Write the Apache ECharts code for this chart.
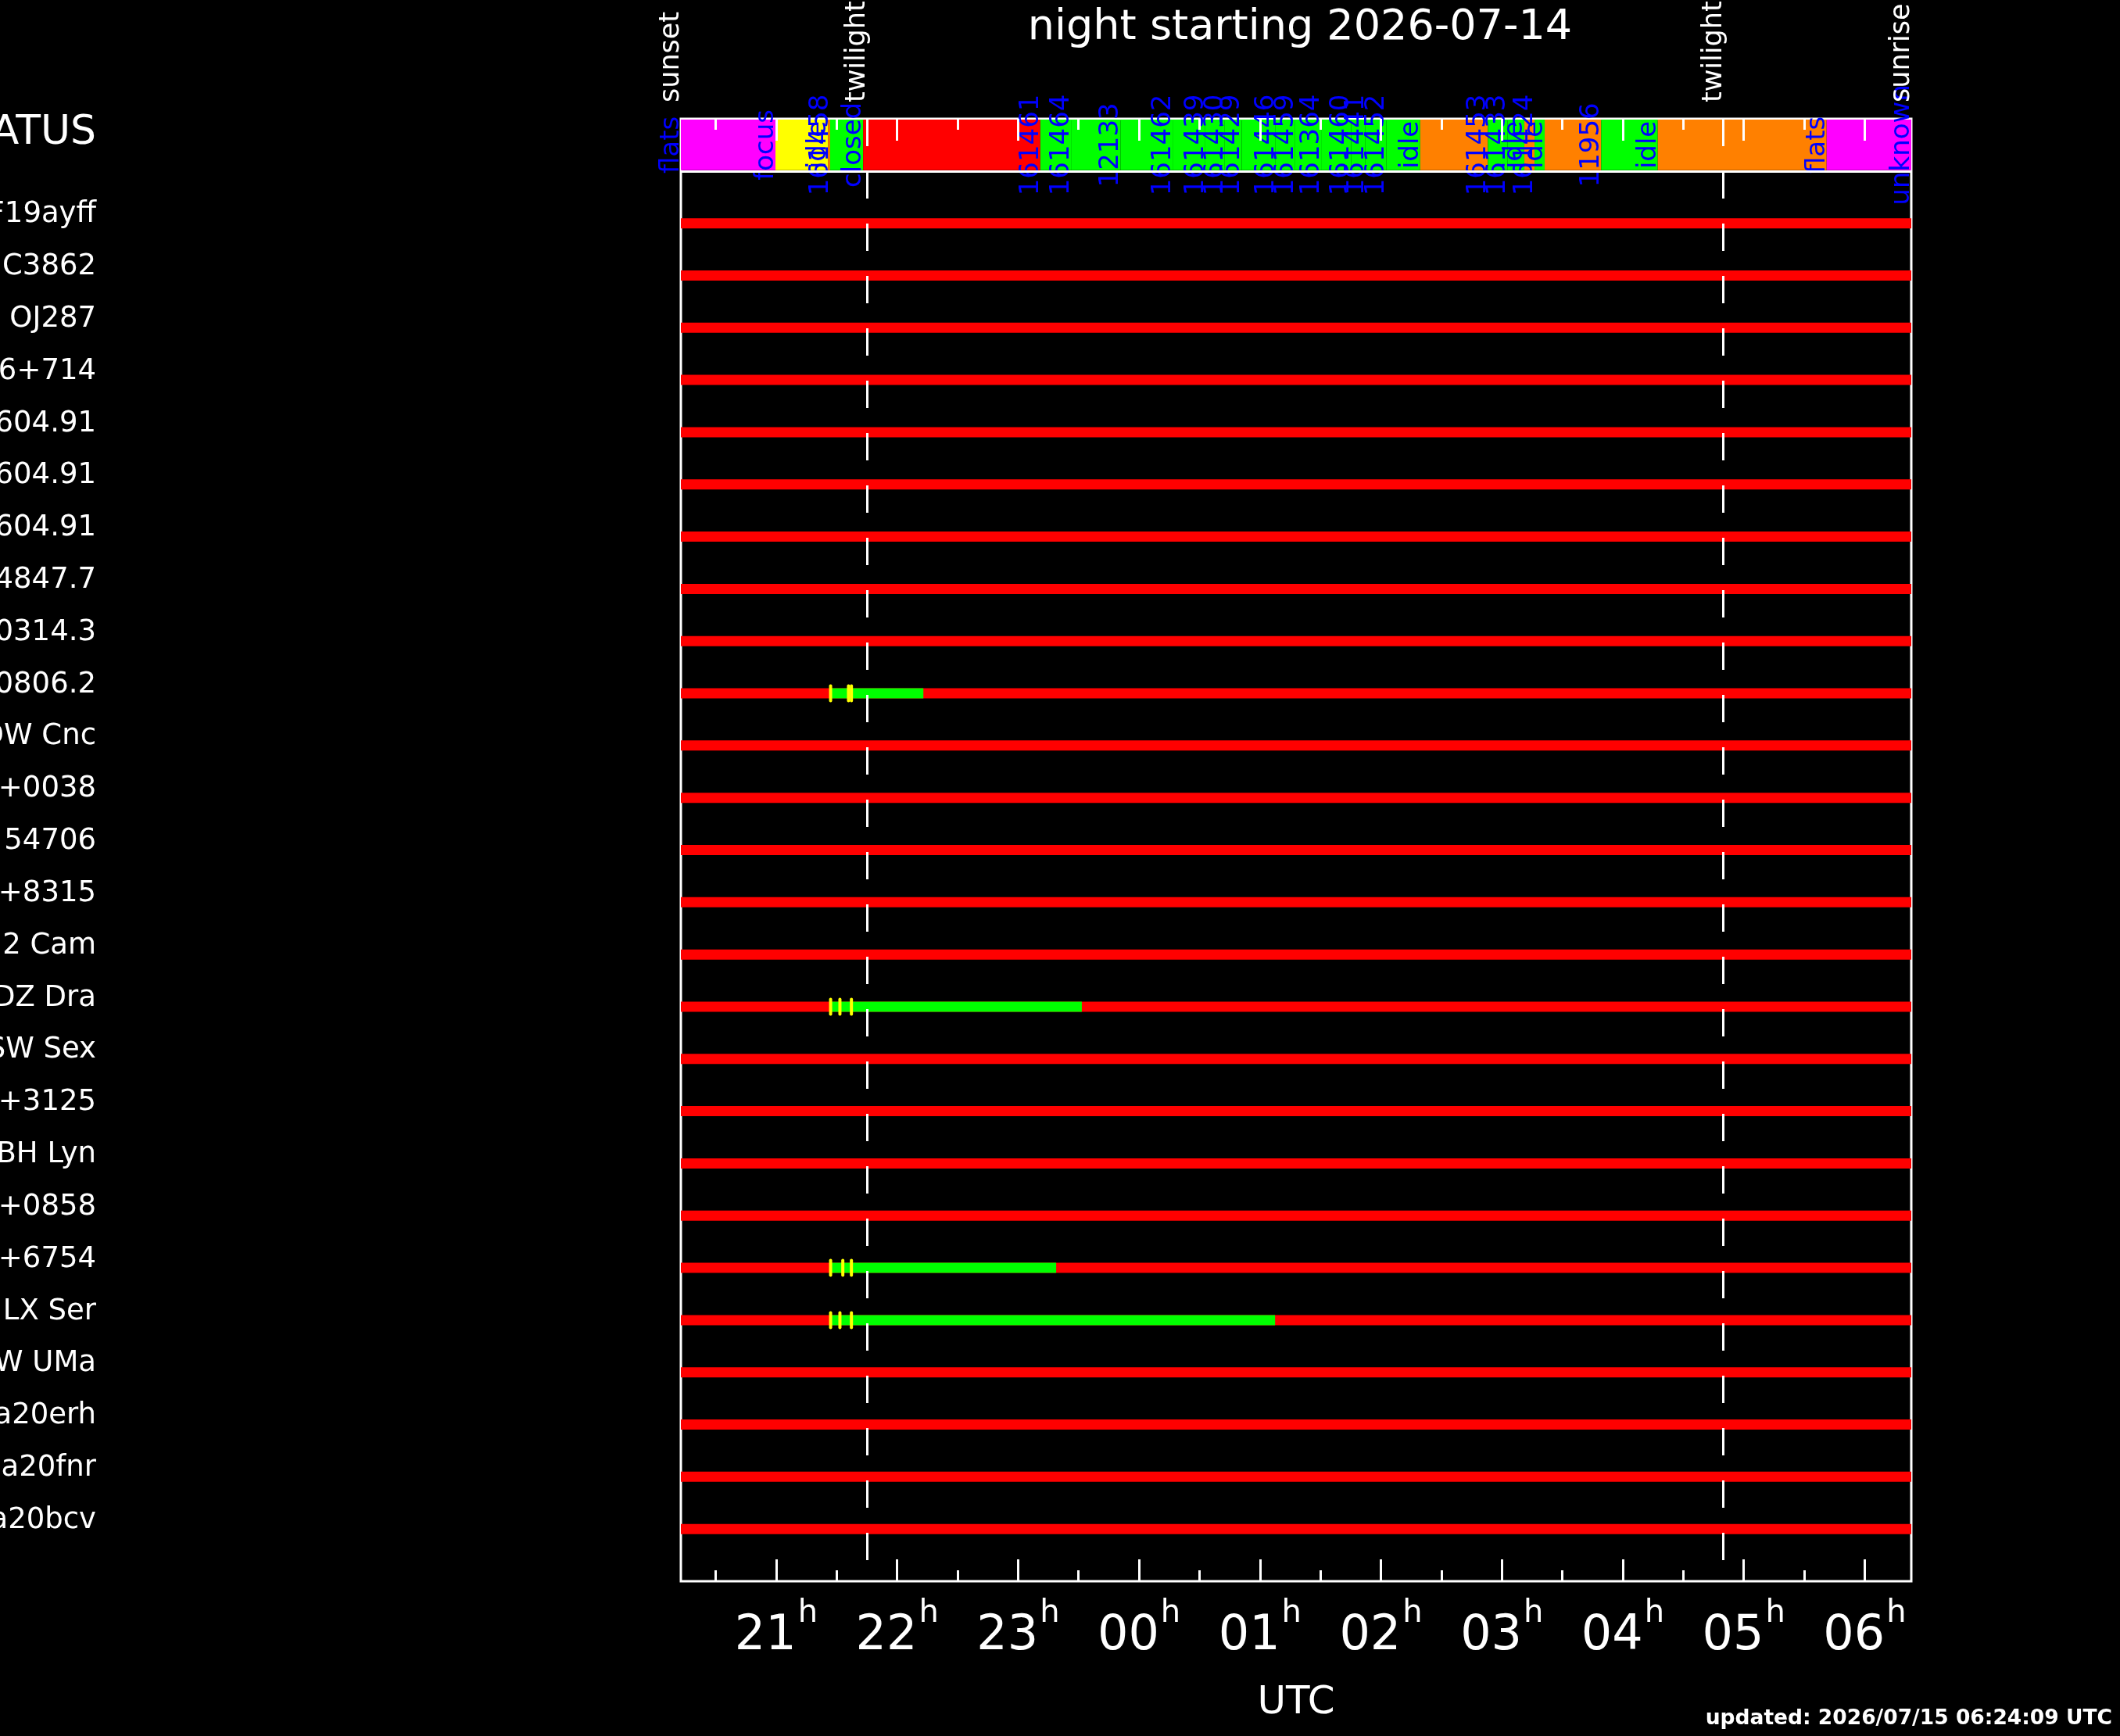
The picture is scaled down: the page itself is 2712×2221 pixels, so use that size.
<!DOCTYPE html>
<html>
<head>
<meta charset="utf-8">
<script src="https://cdn.jsdelivr.net/npm/echarts@6/dist/echarts.min.js"></script>
<style>
html,body{margin:0;padding:0;background:#000;}
#main{width:2712px;height:2221px;}
</style>
</head>
<body>
<div id="main"></div>
<script>
// targets, top to bottom
var rowNames = ['ZTF19ayff','NGC3862','OJ287','S5 0716+714','J1604.91','J1604.91','J1604.91',
	'J1234847.7','J100314.3','J100806.2','DW Cnc','J0808+0038','HIP 54706','J0644+8315',
	'2 Cam','DZ Dra','SW Sex','J0812+3125','BH Lyn','J1551+0858','J1736+6754','LX Ser',
	'W UMa','Gaia20erh','Gaia20fnr','Gaia20bcv'];

// night limits, hours after previous midnight (UTC)
var xMin = 20.212, xMax = 30.385;
var hourTicks = [21,22,23,24,25,26,27,28,29,30];
var halfTicks = [20.5,21.5,22.5,23.5,24.5,25.5,26.5,27.5,28.5,29.5];

// telescope status strip
var statusStart = [20.212,20.994,21.428,21.446,21.719,23.184,23.438,23.847,24.278,24.548,24.709,
	24.849,25.129,25.291,25.506,25.753,25.872,26.044,26.325,26.884,27.046,27.186,27.270,27.354,
	27.821,28.289,29.685,30.385];
var statusLabel = ['flats','focus','idle','161458','closed','161461','161464','12133','161462',
	'161439','161430','161429','161446','161459','161364','161460','161441','161452','idle',
	'161453','161433','idle','161424','idle','11956','idle','flats','unknown'];
var statusKind = ['flats','focus','idle','obs','closed','obs','obs','obs','obs','obs','obs',
	'obs','obs','obs','obs','obs','obs','obs','idle','obs','obs','idle','obs','idle','obs',
	'idle','flats','unknown'];
var kindColor = {flats:'#ff00ff',focus:'#ffff00',idle:'#ff8000',obs:'#00ff00',closed:'#ff0000',unknown:'#ff00ff'};

// sun events
var eventName = ['sunset','twilight','twilight','sunrise'];
var eventHour = [20.212,21.750,28.834,30.385];

// observed stretches per target
var obsRow = [9,15,20,21];
var obsStart = [21.450,21.450,21.450,21.450];
var obsEnd = [22.217,23.527,23.315,25.125];

// yellow exposure markers
var markRow = [9,9,9,15,15,15,20,20,20,21,21,21];
var markHour = [21.450,21.598,21.622,21.450,21.527,21.622,21.450,21.551,21.622,21.450,21.527,21.622];

var FONT = 'DejaVu Sans';

var segData = [];
for (var i = 0; i < rowNames.length; i++) {
	segData.push({value:[i, xMin, xMax], itemStyle:{color:'#ff0000'}});
}
for (var j = 0; j < obsRow.length; j++) {
	segData.push({value:[obsRow[j], obsStart[j], obsEnd[j]], itemStyle:{color:'#00ff00'}});
}
var markData = [];
for (var k = 0; k < markRow.length; k++) markData.push([markRow[k], markHour[k]]);

var statusData = [];
for (var s = 0; s < statusStart.length; s++) {
	var end = s + 1 < statusStart.length ? statusStart[s+1] : xMax;
	statusData.push({value:[statusStart[s], end], itemStyle:{color:kindColor[statusKind[s]]}});
}
var statusLabelData = statusStart.map(function(v){ return [v, -1.5]; });
var eventData = eventHour.map(function(v){ return [v, -2]; });

var twiLines = [];
eventName.forEach(function(n, i){
	if (n == 'twilight') twiLines.push({xAxis:eventHour[i], lineStyle:{color:'#fff', width:3, type:[35,32]}});
});
twiLines.push({yAxis:-1, lineStyle:{color:'#fff', width:3, type:'solid'}});

function pad(h){ h = Math.round(h) % 24; return (h < 10 ? '0' : '') + h; }

function tickAxis(pos, vals, len, withLabel) {
	return {
		type:'value', min:xMin, max:xMax, position:pos, z:6,
		axisLine:{show:false, onZero:false}, splitLine:{show:false},
		axisTick:{show:true, inside:true, length:len, customValues:vals, lineStyle:{color:'#fff', width:3}},
		axisLabel: withLabel ? {
			show:true, customValues:hourTicks, margin:22, color:'#fff',
			formatter:function(v){ return '{n|' + pad(v) + '}{h|h}'; },
			rich:{
				n:{fontSize:62, fontFamily:FONT, color:'#fff', verticalAlign:'bottom'},
				h:{fontSize:40, fontFamily:FONT, color:'#fff', verticalAlign:'bottom', padding:[0,0,40,2]}
			}
		} : {show:false},
		name: withLabel ? 'UTC' : '',
		nameLocation:'middle', nameGap:131,
		nameTextStyle:{color:'#fff', fontSize:50, fontFamily:FONT}
	};
}

var myChart = echarts.init(document.getElementById('main'));
var option = {
	backgroundColor:'#000',
	animation:false,
	textStyle:{fontFamily:FONT},
	title:[{
		text:'night starting 2026-07-14',
		left:1658, top:4, textAlign:'center',
		textStyle:{color:'#fff', fontSize:54, fontWeight:'normal', fontFamily:FONT}
	},{
		text:'updated: 2026/07/15 06:24:09 UTC',
		right:5, bottom:3,
		textStyle:{color:'#fff', fontSize:26.5, fontWeight:'bold', fontFamily:FONT}
	}],
	grid:{left:871, right:267, top:152, bottom:198, containLabel:false, outerBoundsMode:'none',
		show:true, borderColor:'#fff', borderWidth:3, backgroundColor:'transparent'},
	xAxis:[
		tickAxis('bottom', hourTicks, 28, true),
		tickAxis('bottom', halfTicks, 14, false),
		tickAxis('top', hourTicks, 28, false),
		tickAxis('top', halfTicks, 14, false)
	],
	yAxis:{
		type:'value', min:-2, max:26, interval:0.5, inverse:true,
		axisLine:{show:false, onZero:false}, axisTick:{show:false}, splitLine:{show:false},
		axisLabel:{
			margin:748, color:'#fff', fontSize:37, fontFamily:FONT, padding:[0,0,22,0],
			formatter:function(v){
				if (v === -1.5) return '{s|STATUS}';
				if (v >= 0 && v < rowNames.length && Math.round(v) === v) return rowNames[v];
				return '';
			},
			rich:{s:{fontSize:52, color:'#fff', fontFamily:FONT, padding:[0,0,8,0]}}
		}
	},
	series:[{
		// target rows: red = not observed, green = observed
		type:'custom', z:2, encode:{x:[1,2], y:0},
		renderItem:function(params, api){
			var p0 = api.coord([api.value(1), api.value(0)]);
			var p1 = api.coord([api.value(2), api.value(0)]);
			return {type:'rect', shape:{x:p0[0], y:p0[1]-6.5, width:p1[0]-p0[0], height:13},
				style:{fill:api.visual('color')}};
		},
		data:segData
	},{
		type:'custom', z:3, encode:{x:1, y:0},
		renderItem:function(params, api){
			var p = api.coord([api.value(1), api.value(0)]);
			return {type:'rect', shape:{x:p[0]-2, y:p[1]-11.5, width:4, height:23, r:2},
				style:{fill:'#ffff00'}};
		},
		data:markData
	},{
		// status strip
		type:'custom', z:2, encode:{x:[0,1]},
		renderItem:function(params, api){
			var p0 = api.coord([api.value(0), -2]);
			var p1 = api.coord([api.value(1), -1]);
			return {type:'rect', shape:{x:p0[0], y:p0[1]+1, width:p1[0]-p0[0], height:p1[1]-p0[1]-2},
				style:{fill:api.visual('color')}};
		},
		data:statusData
	},{
		type:'custom', z:4, encode:{x:0, y:1},
		renderItem:function(params, api){
			var p = api.coord([api.value(0), api.value(1)]);
			return {type:'text', x:p[0]+5, y:p[1], rotation:Math.PI/2,
				style:{text:statusLabel[params.dataIndex], fill:'#0000ff', fontSize:34, fontFamily:FONT,
					align:'center', verticalAlign:'bottom'}};
		},
		data:statusLabelData
	},{
		type:'custom', z:4, encode:{x:0, y:1},
		renderItem:function(params, api){
			var p = api.coord([api.value(0), api.value(1)]);
			return {type:'text', x:p[0]+5, y:p[1]-21, rotation:Math.PI/2,
				style:{text:eventName[params.dataIndex], fill:'#fff', fontSize:35, fontFamily:FONT,
					align:'left', verticalAlign:'bottom'}};
		},
		data:eventData
	},{
		type:'line', z:5, data:[],
		markLine:{silent:true, symbol:['none','none'], label:{show:false}, animation:false, data:twiLines}
	}]
};
myChart.setOption(option);
</script>
</body>
</html>
